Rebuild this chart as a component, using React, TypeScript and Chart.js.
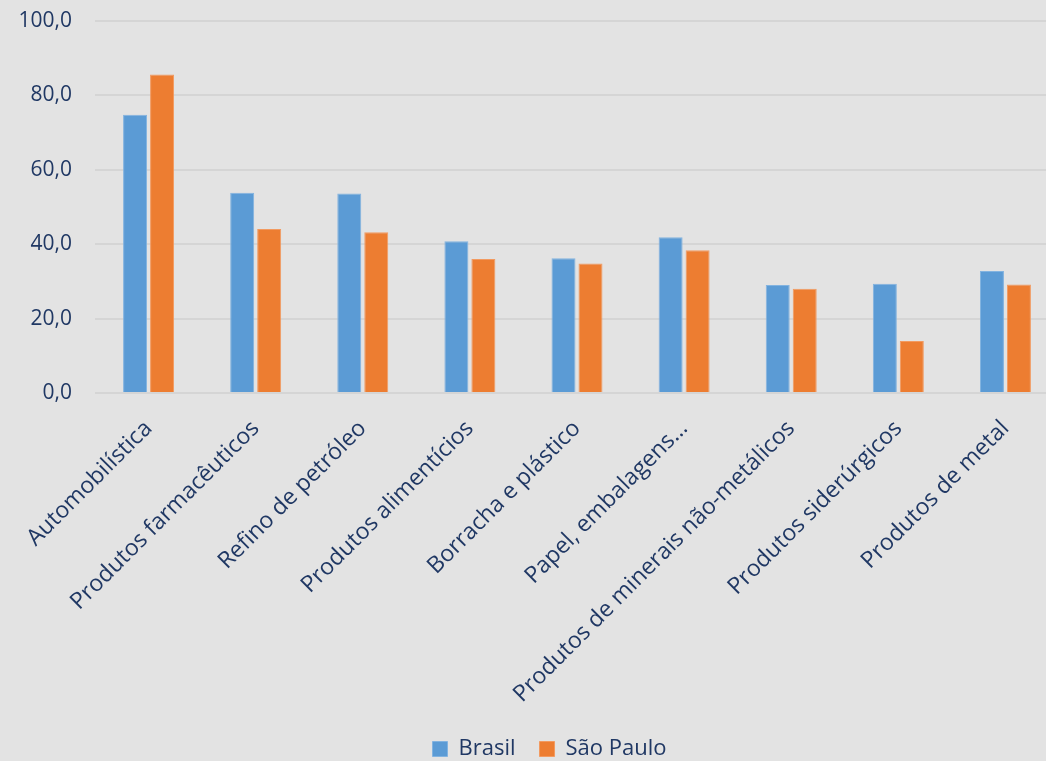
import React, { useEffect, useRef } from "react";
import { Chart, registerables } from "chart.js";

Chart.register(...registerables);

const categories = [
  "Automobilística",
  "Produtos farmacêuticos",
  "Refino de petróleo",
  "Produtos alimentícios",
  "Borracha e plástico",
  "Papel, embalagens…",
  "Produtos de minerais não-metálicos",
  "Produtos siderúrgicos",
  "Produtos de metal",
];

const brasil = [74.8, 53.8, 53.6, 40.8, 36.2, 41.9, 29.0, 29.4, 32.8];
const saoPaulo = [85.6, 44.1, 43.2, 36.0, 34.8, 38.4, 28.0, 14.0, 29.2];

const seriesNames = ["Brasil", "São Paulo"];

const TEXT = "#203864";
const FONT = "'Open Sans', 'DejaVu Sans', sans-serif";

export default function App() {
  const ref = useRef<HTMLCanvasElement | null>(null);

  useEffect(() => {
    if (!ref.current) return;
    const chart = new Chart(ref.current, {
      type: "bar",
      data: {
        labels: categories,
        datasets: [
          {
            label: seriesNames[0],
            data: brasil,
            backgroundColor: "#5b9bd5",
            borderColor: "#82b3e0",
            borderWidth: 1,
            categoryPercentage: 0.504,
            barPercentage: 0.889,
          },
          {
            label: seriesNames[1],
            data: saoPaulo,
            backgroundColor: "#ed7d31",
            borderColor: "#f29a60",
            borderWidth: 1,
            categoryPercentage: 0.504,
            barPercentage: 0.889,
          },
        ],
      },
      options: {
        responsive: false,
        animation: false,
        layout: { padding: { top: 21, left: 0, right: 0, bottom: 0 } },
        plugins: {
          tooltip: { enabled: false },
          legend: {
            position: "bottom",
            labels: {
              boxWidth: 15,
              boxHeight: 15,
              padding: 24,
              color: TEXT,
              font: { family: FONT, size: 22 },
            },
          },
        },
        scales: {
          x: {
            grid: { display: false },
            border: { display: false },
            ticks: {
              autoSkip: false,
              maxRotation: 45,
              minRotation: 45,
              padding: 14,
              color: TEXT,
              font: { family: FONT, size: 23 },
            },
            afterFit: (s: any) => {
              s.height = 321;
            },
          },
          y: {
            min: 0,
            max: 100,
            grid: {
              color: "#d5d5d5",
              lineWidth: 2,
              drawTicks: true,
              tickLength: 20,
              tickColor: "rgba(0,0,0,0)",
            },
            border: { display: false },
            ticks: {
              stepSize: 20,
              padding: 3,
              color: TEXT,
              font: { family: FONT, size: 21 },
              callback: (v: any) => Number(v).toFixed(1).replace(".", ","),
            },
            afterFit: (s: any) => {
              s.width = 95;
            },
          },
          yRight: {
            position: "right",
            min: 0,
            max: 100,
            grid: { display: false },
            border: { display: false },
            ticks: { display: false },
            afterFit: (s: any) => {
              s.width = 40;
            },
          },
        },
      },
    });
    return () => chart.destroy();
  }, []);

  return (
    <div
      style={{
        position: "fixed",
        left: 0,
        top: 0,
        width: 1046,
        height: 761,
        overflow: "hidden",
        background: "#e3e3e3",
      }}
    >
      <canvas
        ref={ref}
        width={1099}
        height={770}
        style={{ width: 1099, height: 770, display: "block" }}
      />
    </div>
  );
}
